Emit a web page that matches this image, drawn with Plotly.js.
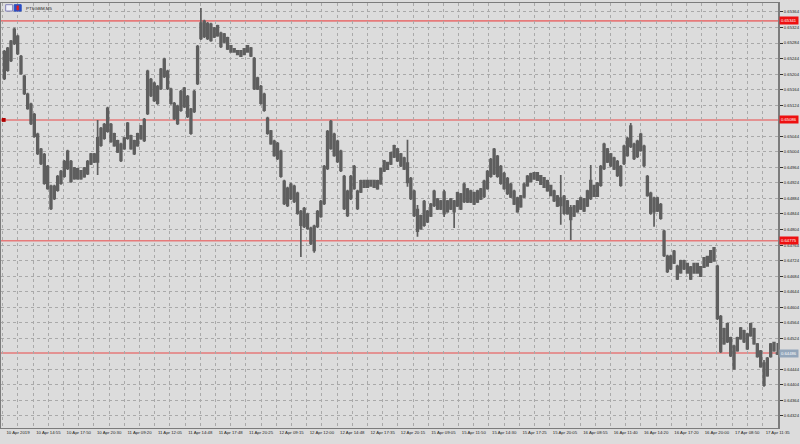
<!DOCTYPE html>
<html>
<head>
<meta charset="utf-8">
<script src="https://cdn.plot.ly/plotly-3.0.1.min.js"></script>
<style>
  html, body { margin: 0; padding: 0; background: #dcdcdc; }
  #chart { width: 800px; height: 444px; }
</style>
</head>
<body>
<div id="chart"></div>
<script>
var symbol = 'PTSGBM,M5';

// M5 bars, prices in points (0.65266 -> 65266)
var openPts = [
  65193,65214,65239,65319,65301,65249,65198,65152,65126,65100,
  65049,65010,64997,64966,64858,64884,64905,64923,64941,65005,
  64979,64962,64935,64955,64940,64948,64973,64998,64978,65021,
  65039,65116,65074,65050,65032,64982,65012,65077,65045,64999,
  65020,65038,65033,65103,65190,65180,65129,65167,65242,65211,
  65165,65128,65077,65111,65167,65146,65052,65108,65180,65296,
  65340,65296,65332,65300,65328,65309,65287,65297,65277,65269,
  65264,65250,65255,65277,65271,65244,65194,65172,65152,65090,
  65057,65031,65025,65005,64928,64866,64920,64915,64897,64850,
  64858,64843,64807,64750,64812,64838,64871,64961,65082,65049,
  65031,65005,64940,64840,64884,64966,64858,64901,64930,64913,
  64930,64913,64909,64922,64955,64959,64973,65019,65011,64998,
  64988,64975,64935,64902,64800,64806,64876,64824,64839,64902,
  64882,64857,64900,64850,64882,64850,64898,64857,64920,64908,
  64875,64898,64875,64883,64889,64910,64941,65010,64992,64966,
  64948,64935,64920,64902,64850,64863,64888,64917,64928,64934,
  64950,64942,64937,64929,64917,64903,64890,64866,64889,64877,
  64830,64839,64850,64857,64882,64865,64884,64917,64890,64918,
  64961,65011,64998,64988,64979,64918,64974,64995,65070,65023,
  64992,65049,65018,64940,64897,64850,64885,64868,64799,64735,
  64703,64748,64677,64723,64703,64716,64677,64692,64716,64684,
  64707,64734,64720,64757,64709,64580,64510,64561,64525,64446,
  64492,64550,64543,64497,64561,64548,64509,64491,64403,64428,
  64477,64513,64484
];
var highPts = [
  65266,65274,65292,65323,65305,65253,65202,65156,65130,65104,
  65053,65014,65001,64970,64919,64919,64944,64957,64983,65009,
  64983,64965,64963,64957,64965,64983,65001,65001,65086,65068,
  65078,65120,65078,65053,65035,65027,65042,65081,65048,65035,
  65053,65073,65091,65215,65194,65184,65176,65220,65246,65215,
  65169,65132,65125,65163,65171,65150,65117,65163,65279,65374,
  65344,65338,65336,65325,65331,65313,65310,65300,65279,65271,
  65266,65266,65271,65279,65274,65248,65197,65176,65156,65094,
  65060,65035,65029,65009,64932,64914,64924,64919,64901,64854,
  64862,64847,64811,64816,64854,64880,64970,65060,65086,65053,
  65035,65009,64944,64906,64944,64970,64906,64932,64932,64932,
  64932,64932,64932,64963,64983,64978,65004,65022,65014,65001,
  64991,65035,64939,64906,64867,64842,64880,64854,64872,64906,
  64885,64880,64906,64880,64885,64880,64901,64898,64924,64911,
  64906,64901,64906,64911,64932,64957,64988,65014,64996,64970,
  64952,64939,64924,64906,64888,64893,64924,64944,64950,64952,
  64952,64944,64939,64932,64919,64906,64893,64944,64893,64880,
  64867,64867,64880,64888,64885,64906,64970,64919,64926,64970,
  65027,65014,65001,64991,64983,64970,65022,65042,65078,65027,
  65035,65053,65022,64944,64901,64888,64888,64872,64803,64739,
  64739,64751,64713,64726,64726,64718,64710,64718,64718,64710,
  64733,64736,64751,64759,64713,64584,64551,64564,64528,64507,
  64528,64553,64546,64538,64564,64551,64512,64494,64468,64476,
  64512,64515,64512
];
var lowPts = [
  65189,65210,65235,65279,65253,65202,65150,65112,65073,65040,
  64996,64970,64919,64906,64854,64880,64901,64919,64937,64957,
  64924,64932,64932,64932,64937,64944,64970,64975,64944,65017,
  65035,65053,65027,65017,65001,64978,65009,65035,65009,64996,
  65017,65035,65029,65099,65145,65132,65125,65163,65194,65163,
  65125,65086,65073,65107,65117,65091,65048,65104,65176,65292,
  65297,65292,65287,65297,65300,65271,65284,65266,65259,65259,
  65253,65248,65253,65259,65248,65163,65163,65125,65107,65048,
  65022,64991,64983,64937,64867,64862,64880,64872,64842,64733,
  64808,64803,64764,64744,64808,64834,64867,64957,65009,64991,
  64975,64952,64854,64836,64880,64906,64854,64898,64911,64911,
  64914,64911,64906,64919,64952,64957,64970,64988,64978,64965,
  64957,64914,64880,64836,64785,64803,64811,64821,64836,64862,
  64854,64854,64836,64847,64854,64808,64862,64854,64872,64872,
  64872,64867,64872,64880,64885,64906,64937,64944,64937,64919,
  64906,64893,64885,64867,64847,64860,64885,64914,64926,64932,
  64929,64919,64911,64901,64890,64875,64862,64816,64842,64842,
  64777,64836,64847,64854,64849,64862,64880,64888,64888,64914,
  64957,64975,64965,64957,64939,64914,64970,64991,65014,64983,
  64988,65004,64965,64888,64842,64811,64849,64829,64733,64692,
  64700,64715,64674,64690,64700,64690,64674,64690,64690,64682,
  64705,64708,64718,64721,64571,64486,64507,64512,64476,64443,
  64489,64520,64512,64494,64528,64507,64474,64448,64399,64425,
  64474,64489,64481
];
var closePts = [
  65262,65270,65288,65283,65257,65206,65154,65116,65077,65044,
  65000,64974,64923,64910,64915,64915,64940,64953,64979,64961,
  64928,64935,64960,64935,64962,64979,64998,64978,65040,65064,
  65074,65057,65031,65020,65004,65023,65039,65039,65012,65032,
  65050,65070,65087,65211,65149,65136,65172,65216,65198,65167,
  65129,65090,65121,65159,65121,65095,65113,65159,65275,65335,
  65301,65334,65291,65322,65303,65275,65307,65269,65261,65261,
  65255,65264,65269,65261,65251,65167,65166,65129,65111,65052,
  65025,64995,64987,64941,64871,64910,64884,64876,64846,64815,
  64812,64807,64768,64812,64850,64876,64966,65056,65013,64995,
  64979,64956,64858,64902,64940,64910,64902,64929,64913,64930,
  64916,64930,64929,64960,64980,64976,65001,64991,64981,64968,
  64960,64925,64884,64840,64855,64839,64815,64851,64869,64866,
  64857,64877,64845,64877,64857,64877,64865,64895,64876,64875,
  64903,64870,64903,64908,64928,64953,64984,64948,64941,64923,
  64910,64897,64888,64870,64885,64890,64920,64941,64947,64950,
  64931,64921,64913,64904,64892,64878,64865,64885,64846,64845,
  64860,64864,64877,64885,64852,64903,64930,64890,64923,64966,
  65023,64978,64968,64960,64943,64966,65018,65038,65018,64987,
  65031,65008,64969,64892,64846,64884,64852,64833,64737,64696,
  64735,64718,64709,64693,64723,64692,64707,64716,64692,64708,
  64731,64710,64749,64723,64575,64490,64548,64515,64479,64503,
  64525,64523,64515,64535,64531,64510,64477,64451,64460,64472,
  64509,64492,64486
];

var timeLabels = [
  '10 Apr 2019', '10 Apr 14:55', '10 Apr 17:50', '10 Apr 20:30', '11 Apr 09:20',
  '11 Apr 12:05', '11 Apr 14:48', '11 Apr 17:48', '11 Apr 20:25', '12 Apr 09:15',
  '12 Apr 12:00', '12 Apr 14:48', '12 Apr 17:35', '12 Apr 20:15', '15 Apr 09:05',
  '15 Apr 11:50', '15 Apr 14:30', '15 Apr 17:25', '15 Apr 20:05', '16 Apr 08:55',
  '16 Apr 11:40', '16 Apr 14:20', '16 Apr 17:20', '16 Apr 20:00', '17 Apr 08:50',
  '17 Apr 11:35'
];

// price scale labels on the right
var priceTicks = [
  0.64324, 0.64364, 0.64404, 0.64444, 0.64484, 0.64524, 0.64564, 0.64604, 0.64644,
  0.64684, 0.64724, 0.64764, 0.64804, 0.64844, 0.64884, 0.64924, 0.64964, 0.65004,
  0.65044, 0.65084, 0.65124, 0.65164, 0.65204, 0.65244, 0.65284, 0.65324, 0.65364
];

// horizontal levels drawn on the chart (last one = current bid)
var levels = [0.65341, 0.65086, 0.64775, 0.64486];

var toPrice = function (p) { return p / 100000; };
var bars = openPts.map(function (_, i) { return i; });

var barsPerLabel = 9.12;
var tickvals = timeLabels.map(function (_, k) { return 4.1 + barsPerLabel * k; });

// a level label covers the scale label sitting under it
var shownTicks = priceTicks.filter(function (t) {
    return levels.every(function (lv) { return Math.abs(t - lv) > 0.00009; });
});

var data = [{
    type: 'candlestick',
    x: bars,
    open: openPts.map(toPrice),
    high: highPts.map(toPrice),
    low: lowPts.map(toPrice),
    close: closePts.map(toPrice),
    increasing: {line: {color: '#5e5e5e', width: 1.7}, fillcolor: '#767676'},
    decreasing: {line: {color: '#5e5e5e', width: 1.7}, fillcolor: '#5e5e5e'},
    whiskerwidth: 0,
    hoverinfo: 'skip'
}];

var gridColor = '#a9a9a9';

var shapes = levels.map(function (lv) {
    return {
        type: 'line', xref: 'paper', yref: 'y', x0: 0, x1: 1, y0: lv, y1: lv,
        line: {color: 'rgba(232,105,105,0.85)', width: 1.6},
        layer: 'between'
    };
});
// little marker on the left of the second level
shapes.push({
    type: 'rect', xref: 'paper', yref: 'y', x0: 0.001, x1: 0.006,
    y0: levels[1] - 0.00005, y1: levels[1] + 0.00005,
    fillcolor: '#b00000', line: {width: 0}
});
// symbol icon
shapes.push({
    type: 'rect', xref: 'paper', yref: 'paper', x0: 0.006, x1: 0.015, y0: 0.981, y1: 0.996,
    fillcolor: '#eeeef8', line: {color: '#8080b8', width: 1}
});
shapes.push({
    type: 'rect', xref: 'paper', yref: 'paper', x0: 0.017, x1: 0.026, y0: 0.981, y1: 0.996,
    fillcolor: '#2a4fc4', line: {color: '#2a4fc4', width: 1}
});
shapes.push({
    type: 'rect', xref: 'paper', yref: 'paper', x0: 0.020, x1: 0.023, y0: 0.983, y1: 0.994,
    fillcolor: '#e02020', line: {width: 0}
});

var annotations = levels.map(function (lv, i) {
    var last = i === levels.length - 1;
    return {
        xref: 'paper', yref: 'y', x: 1, y: lv, xanchor: 'left', yanchor: 'middle',
        xshift: 1, showarrow: false, text: lv.toFixed(5),
        bgcolor: last ? '#93a6ba' : '#ee1010', borderpad: 1,
        font: {family: 'Liberation Sans', size: 4.2, color: '#ffffff'}
    };
});
annotations.push({
    xref: 'paper', yref: 'paper', x: 0.029, y: 0.998, xanchor: 'left', yanchor: 'top',
    showarrow: false, text: symbol,
    font: {family: 'Liberation Sans', size: 4.4, color: '#222222'}
});

var layout = {
    width: 800,
    height: 444,
    margin: {l: 1, r: 22, t: 3, b: 16, pad: 0},
    paper_bgcolor: '#dcdcdc',
    plot_bgcolor: '#dcdcdc',
    showlegend: false,
    xaxis: {
        range: [-1, 232.2],
        tickmode: 'array',
        tickvals: tickvals,
        ticktext: timeLabels,
        tickangle: 0,
        ticks: '',
        showgrid: true,
        gridcolor: gridColor,
        griddash: 'dot',
        gridwidth: 1,
        minor: {tick0: 4.1 - barsPerLabel / 2, dtick: barsPerLabel / 2, showgrid: true,
                gridcolor: gridColor, griddash: 'dot', gridwidth: 1},
        zeroline: false,
        showline: true,
        linecolor: '#7c7c7c',
        linewidth: 1,
        mirror: true,
        rangeslider: {visible: false},
        tickfont: {family: 'Liberation Sans', size: 4.3, color: '#222222'},
        fixedrange: true,
        automargin: false
    },
    yaxis: {
        side: 'right',
        range: [0.64293, 0.65387],
        tickmode: 'array',
        tickvals: shownTicks,
        tickformat: '.5f',
        ticks: 'outside',
        ticklen: 3,
        tickcolor: '#333333',
        showgrid: true,
        gridcolor: gridColor,
        griddash: 'dot',
        gridwidth: 1,
        zeroline: false,
        showline: true,
        linecolor: '#7c7c7c',
        linewidth: 2,
        mirror: true,
        tickfont: {family: 'Liberation Sans', size: 4.2, color: '#222222'},
        fixedrange: true,
        automargin: false
    },
    shapes: shapes,
    annotations: annotations
};

Plotly.newPlot('chart', data, layout, {displayModeBar: false, staticPlot: true});
</script>
</body>
</html>
